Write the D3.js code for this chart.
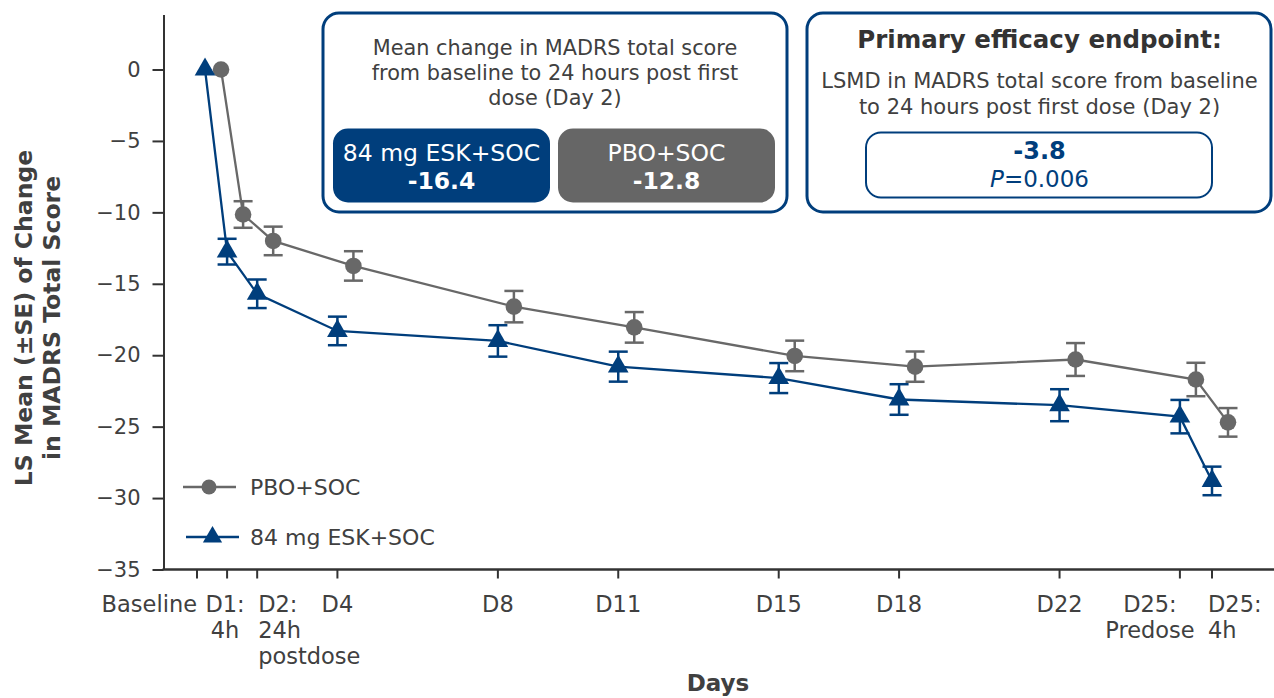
<!DOCTYPE html>
<html><head><meta charset="utf-8">
<script src="https://cdn.jsdelivr.net/npm/d3@7"></script>
<style>body{margin:0;background:#fff}svg{display:block}</style>
</head><body><svg id="c" width="1274" height="698"></svg>
<script>
// ---------- data ----------
const tickDays   = [0.5, 1.25, 2, 4, 8, 11, 15, 18, 22, 25, 25.8];
const tickLabels = [["Baseline"], ["D1:", "4h"], ["D2:", "24h", "postdose"], ["D4"], ["D8"], ["D11"], ["D15"], ["D18"], ["D22"], ["D25:", "Predose"], ["D25:", "4h"]];
const pointDays  = [0.7, 1.25, 2, 4, 8, 11, 15, 18, 22, 25, 25.8];
const eskMean = [0, -12.75, -15.7, -18.3, -19.0, -20.8, -21.6, -23.1, -23.5, -24.3, -28.8];
const eskSE   = [0, 0.9, 1.0, 1.0, 1.1, 1.05, 1.05, 1.07, 1.12, 1.17, 1.0];
const pboMean = [0, -10.15, -12.0, -13.75, -16.6, -18.05, -20.05, -20.8, -20.3, -21.7, -24.7];
const pboSE   = [0, 0.93, 1.0, 1.03, 1.1, 1.07, 1.07, 1.06, 1.15, 1.17, 1.0];
const yTicks  = [0, -5, -10, -15, -20, -25, -30, -35];
const seriesNames = ["PBO+SOC", "84 mg ESK+SOC"];
const boxGroups = ["84 mg ESK+SOC", "PBO+SOC"];
const boxValues = ["-16.4", "-12.8"];
const lsmdValue = "-3.8";
const pValue = "0.006";

// ---------- styles ----------
const BLUE = "#003e7c", GRAY = "#686868", TXT = "#404040";
const FONT = "'DejaVu Sans', Verdana, sans-serif";
const labelAnchor = ["end", "middle", "start", "middle", "middle", "middle", "middle", "middle", "middle", "middle", "start"];
const labelDx = [0, -2, 1, 0, 0, 0, 0, 0, 0, -30, -4];
const PBO_DODGE = 16;

const svg = d3.select("#c");
const x = d3.scaleLinear().domain([0.5, 25.8]).range([197, 1212]);
const y = d3.scaleLinear().domain([-35, 3.85]).range([569.5, 14.5]);

// y axis
const yAxis = svg.append("g").attr("transform", "translate(163.5,0)")
  .call(d3.axisLeft(y).tickValues(yTicks).tickSize(11).tickPadding(12).tickSizeOuter(0));
yAxis.select(".domain").attr("stroke", "#333").attr("stroke-width", 2);
yAxis.selectAll(".tick line").attr("stroke", "#333").attr("stroke-width", 2);
yAxis.selectAll(".tick text").attr("fill", TXT).style("font-family", FONT).style("font-size", "21px");

// x axis
const xg = svg.append("g").attr("transform", "translate(0,569.5)");
xg.append("line").attr("x1", 162.5).attr("x2", 1274).attr("stroke", "#333").attr("stroke-width", 2.5);
const xt = xg.selectAll("g.xt").data(tickDays).join("g").attr("class", "xt")
  .attr("transform", d => `translate(${x(d)},0)`);
xt.append("line").attr("y2", 9).attr("stroke", "#333").attr("stroke-width", 2);
xt.each(function(d, i) {
  const t = d3.select(this).append("text")
    .attr("text-anchor", labelAnchor[i]).attr("fill", TXT)
    .style("font-family", FONT).style("font-size", "22.5px");
  tickLabels[i].forEach((ln, j) => {
    t.append("tspan").attr("x", labelDx[i]).attr("y", 42 + j * 26).text(ln);
  });
});

// axis titles
svg.append("text").attr("x", 718).attr("y", 691).attr("text-anchor", "middle")
  .attr("fill", TXT).style("font-family", FONT).style("font-weight", "bold").style("font-size", "23px").text("Days");
const yl = svg.append("text").attr("transform", "translate(0,318) rotate(-90)")
  .attr("text-anchor", "middle").attr("fill", TXT)
  .style("font-family", FONT).style("font-weight", "bold").style("font-size", "23.5px");
yl.append("tspan").attr("x", 0).attr("y", 32).text("LS Mean (\u00B1SE) of Change");
yl.append("tspan").attr("x", 0).attr("y", 60).text("in MADRS Total Score");

// series
function drawSeries(mean, se, color, dodge, marker) {
  const pts = mean.map((m, i) => ({ px: x(pointDays[i]) + dodge, m, se: se[i] }));
  const g = svg.append("g");
  g.append("path").datum(pts)
    .attr("d", d3.line().x(d => d.px).y(d => y(d.m)))
    .attr("fill", "none").attr("stroke", color).attr("stroke-width", 2.3);
  const eb = g.selectAll("g.eb").data(pts.filter(d => d.se > 0)).join("g");
  eb.append("line").attr("x1", d => d.px).attr("x2", d => d.px)
    .attr("y1", d => y(d.m + d.se)).attr("y2", d => y(d.m - d.se))
    .attr("stroke", color).attr("stroke-width", 2.5);
  [1, -1].forEach(s => {
    eb.append("line").attr("x1", d => d.px - 9.5).attr("x2", d => d.px + 9.5)
      .attr("y1", d => y(d.m + s * d.se)).attr("y2", d => y(d.m + s * d.se))
      .attr("stroke", color).attr("stroke-width", 2.5);
  });
  g.selectAll("path.mk").data(pts).join("path").attr("class", "mk")
    .attr("transform", d => `translate(${d.px},${y(d.m)})`)
    .attr("d", marker).attr("fill", color);
}
const circleMk = d3.symbol().type(d3.symbolCircle).size(Math.PI * 8.3 * 8.3)();
const triMk = d3.symbol().type(d3.symbolTriangle).size(185)();
drawSeries(pboMean, pboSE, GRAY, PBO_DODGE, circleMk);
drawSeries(eskMean, eskSE, BLUE, 0, triMk);

// legend
const lg = svg.append("g");
lg.append("line").attr("x1", 183).attr("x2", 236).attr("y1", 487).attr("y2", 487).attr("stroke", GRAY).attr("stroke-width", 2.3);
lg.append("path").attr("transform", "translate(209,487)").attr("d", d3.symbol().type(d3.symbolCircle).size(Math.PI * 7.5 * 7.5)()).attr("fill", GRAY);
lg.append("line").attr("x1", 186).attr("x2", 239).attr("y1", 537).attr("y2", 537).attr("stroke", BLUE).attr("stroke-width", 2.3);
lg.append("path").attr("transform", "translate(212.5,537)").attr("d", d3.symbol().type(d3.symbolTriangle).size(160)()).attr("fill", BLUE);
lg.selectAll("text").data(seriesNames).join("text")
  .attr("x", 250).attr("y", (d, i) => 494.5 + i * 50)
  .attr("fill", TXT).style("font-family", FONT).style("font-size", "22px").text(d => d);

// summary box 1
const b1 = svg.append("g");
b1.append("rect").attr("x", 323).attr("y", 13).attr("width", 464).attr("height", 199).attr("rx", 16)
  .attr("fill", "#fff").attr("stroke", BLUE).attr("stroke-width", 3);
["Mean change in MADRS total score", "from baseline to 24 hours post first", "dose (Day 2)"].forEach((t, i) => {
  b1.append("text").attr("x", 555).attr("y", 55 + i * 25).attr("text-anchor", "middle")
    .attr("fill", TXT).style("font-family", FONT).style("font-size", "20.8px").text(t);
});
const boxFill = [BLUE, "#666666"];
boxGroups.forEach((gname, i) => {
  const bx = 333 + i * 225;
  b1.append("rect").attr("x", bx).attr("y", 128.5).attr("width", 217).attr("height", 74).attr("rx", 15).attr("fill", boxFill[i]);
  b1.append("text").attr("x", bx + 108.5).attr("y", 161).attr("text-anchor", "middle").attr("fill", "#fff")
    .style("font-family", FONT).style("font-size", "23.5px").text(gname);
  b1.append("text").attr("x", bx + 108.5).attr("y", 189).attr("text-anchor", "middle").attr("fill", "#fff")
    .style("font-family", FONT).style("font-weight", "bold").style("font-size", "23.5px").text(boxValues[i]);
});

// summary box 2
const b2 = svg.append("g");
b2.append("rect").attr("x", 807).attr("y", 13).attr("width", 464).attr("height", 199).attr("rx", 16)
  .attr("fill", "#fff").attr("stroke", BLUE).attr("stroke-width", 3);
b2.append("text").attr("x", 1039.5).attr("y", 47.5).attr("text-anchor", "middle").attr("fill", "#333")
  .style("font-family", FONT).style("font-weight", "bold").style("font-size", "24.5px").text("Primary efficacy endpoint:");
["LSMD in MADRS total score from baseline", "to 24 hours post first dose (Day 2)"].forEach((t, i) => {
  b2.append("text").attr("x", 1039.5).attr("y", 87.5 + i * 26).attr("text-anchor", "middle")
    .attr("fill", TXT).style("font-family", FONT).style("font-size", "21px").text(t);
});
b2.append("rect").attr("x", 866).attr("y", 132.5).attr("width", 346).attr("height", 65).attr("rx", 15)
  .attr("fill", "#fff").attr("stroke", BLUE).attr("stroke-width", 2);
b2.append("text").attr("x", 1039.5).attr("y", 159).attr("text-anchor", "middle").attr("fill", BLUE)
  .style("font-family", FONT).style("font-weight", "bold").style("font-size", "24px").text(lsmdValue);
const pt = b2.append("text").attr("x", 1039.5).attr("y", 186.5).attr("text-anchor", "middle").attr("fill", BLUE)
  .style("font-family", FONT).style("font-size", "23px");
pt.append("tspan").style("font-style", "italic").text("P");
pt.append("tspan").text("=" + pValue);
</script>
</body></html>
